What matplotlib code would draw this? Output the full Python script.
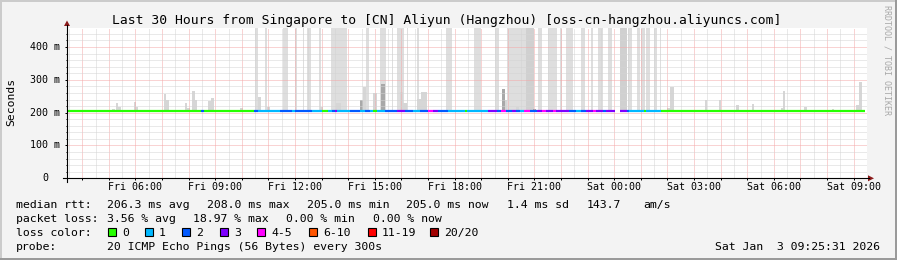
import matplotlib
matplotlib.use("Agg")
import matplotlib.pyplot as plt
from matplotlib.patches import Rectangle, Polygon
from matplotlib.lines import Line2D

W, H = 897, 260
MONO = "DejaVu Sans Mono"

# time axis: hours since Fri 00:00, graph ends Sat 09:25:31
t_start = 3.425
t_end = 33.425
y_top = 459

xlabel_hours = [6, 9, 12, 15, 18, 21, 24, 27, 30, 33]
xlabel_text = ["Fri 06:00", "Fri 09:00", "Fri 12:00", "Fri 15:00", "Fri 18:00",
               "Fri 21:00", "Sat 00:00", "Sat 03:00", "Sat 06:00", "Sat 09:00"]
ylabel_vals = [0, 100, 200, 300, 400]
ylabel_text = ["0", "100 m", "200 m", "300 m", "400 m"]

loss_names = ["0", "1", "2", "3", "4-5", "6-10", "11-19", "20/20"]
loss_colors = ["#26ff00", "#00b8ff", "#0059ff", "#7e00ff", "#ff00ff",
               "#ff5500", "#ff0000", "#a00000"]

# full height smoke columns
col_start = [10.48, 10.85, 11.53, 12.01, 12.28, 12.46, 12.88, 13.36, 14.68, 15.20,
             15.65, 15.84, 16.21, 16.59, 17.67, 18.72, 19.51, 19.96, 20.67, 21.12,
             21.50, 21.95, 22.17, 22.74, 23.11, 23.37, 23.75, 24.20, 24.50, 24.84,
             25.02, 25.21, 25.51, 25.70]
col_end = [10.59, 10.93, 11.75, 12.09, 12.35, 12.61, 12.99, 13.96, 14.79, 15.43,
           15.69, 16.10, 16.25, 16.66, 17.90, 18.99, 19.66, 20.67, 20.97, 21.28,
           21.84, 22.02, 22.44, 22.89, 23.19, 23.56, 23.90, 24.46, 24.65, 24.95,
           25.14, 25.36, 25.59, 25.77]
col_dark = [0, 0, 0, 0, 0, 0, 0, 0, 0, 0,
            0, 0, 0, 0, 0, 0, 0, 0, 1, 0,
            0, 0, 0, 0, 0, 0, 0, 1, 0, 0,
            0, 0, 0, 0]

# partial smoke (rtt spread above the median)
smk_start = [5.11, 5.26, 5.34, 5.94, 6.01, 7.06, 7.14, 7.85, 7.93, 8.11, 8.23, 8.71,
             8.83, 9.91, 10.59, 10.96, 12.95, 13.55, 14.45, 14.56, 14.94, 15.24,
             15.95, 16.06, 16.59, 16.74, 19.77, 19.88, 20.30, 20.94, 25.99, 26.11,
             27.42, 27.95, 28.59, 29.19, 30.27, 30.35, 31.13, 32.18, 33.08, 33.19]
smk_end = [5.23, 5.34, 5.45, 6.01, 6.09, 7.14, 7.25, 7.93, 8.04, 8.23, 8.30, 8.83,
           8.94, 10.03, 10.70, 11.07, 13.06, 13.74, 14.56, 14.68, 15.09, 15.39,
           16.06, 16.21, 16.74, 16.96, 19.88, 19.96, 20.41, 21.05, 26.11, 26.26,
           27.49, 28.02, 28.70, 29.26, 30.35, 30.42, 31.24, 32.25, 33.19, 33.30]
smk_top = [211, 231, 218, 233, 218, 256, 238, 231, 215, 267, 240, 236,
           245, 215, 248, 218, 218, 231, 240, 277, 261, 287,
           262, 230, 241, 262, 272, 240, 218, 212, 215, 279,
           238, 238, 224, 226, 215, 265, 218, 212, 222, 295]
smk_dark = [0, 0, 0, 0, 0, 0, 0, 0, 0, 0, 0, 0,
            0, 0, 0, 0, 0, 0, 1, 0, 0, 1,
            0, 0, 0, 0, 1, 0, 0, 1, 0, 0,
            0, 0, 0, 0, 0, 0, 0, 0, 0, 0]

# median rtt, coloured by packet loss
seg_start = [3.425, 8.45, 8.56, 10.44, 10.59, 11.45, 11.90, 12.01, 12.65, 12.76,
             13.03, 13.25, 13.40, 13.51, 13.59, 14.07, 14.45, 14.64, 14.82, 14.94,
             15.09, 15.39, 15.84, 16.14, 16.44, 16.70, 17.00, 17.19, 17.37, 17.75,
             18.12, 18.39, 18.46, 18.65, 19.25, 19.59, 19.74, 19.93, 20.15, 20.30,
             20.45, 20.60, 20.82, 21.09, 21.28, 21.42, 21.69, 21.80, 22.29, 22.55,
             22.74, 22.92, 23.19, 23.30, 23.56, 23.67, 24.20, 24.46, 24.54, 25.10,
             25.21, 25.40, 25.77]
seg_end = [8.45, 8.56, 10.44, 10.59, 11.45, 11.90, 12.01, 12.65, 12.76, 13.03,
           13.25, 13.40, 13.51, 13.59, 14.07, 14.45, 14.64, 14.82, 14.94, 15.09,
           15.39, 15.84, 16.14, 16.44, 16.70, 17.00, 17.19, 17.37, 17.75, 18.12,
           18.39, 18.46, 18.65, 19.25, 19.59, 19.74, 19.93, 20.15, 20.30, 20.45,
           20.60, 20.82, 21.09, 21.28, 21.42, 21.69, 21.80, 22.29, 22.55, 22.74,
           22.92, 23.19, 23.30, 23.56, 23.67, 24.01, 24.46, 24.54, 25.10, 25.21,
           25.40, 25.77, 33.425]
seg_loss = [0, 2, 0, 2, 1, 2, 1, 2, 1, 1,
            0, 1, 2, 3, 1, 2, 1, 2, 1, 0,
            1, 2, 3, 2, 1, 2, 4, 3, 2, 1,
            1, 0, 1, 1, 3, 2, 4, 2, 3, 2,
            1, 4, 2, 3, 4, 3, 4, 3, 2, 1,
            2, 3, 4, 3, 2, 3, 3, 2, 1, 0,
            1, 1, 0]
seg_rtt = [206, 206, 206, 206, 206, 206, 206, 206, 204, 206,
           206, 206, 206, 206, 206, 206, 206, 206, 206, 206,
           206, 206, 206, 206, 206, 206, 206, 206, 206, 206,
           204, 206, 204, 206, 206, 206, 206, 206, 206, 206,
           206, 206, 206, 206, 206, 206, 206, 206, 206, 206,
           206, 206, 206, 206, 206, 206, 206, 206, 206, 206,
           204, 206, 206]

stats_rtt = ["206.3 ms avg", "208.0 ms max", "205.0 ms min", "205.0 ms now",
             "1.4 ms sd", "143.7", "am/s"]
stats_rtt_x = [107, 207, 307, 406, 507, 587, 643]
stats_loss = ["3.56 % avg", "18.97 % max", "0.00 % min", "0.00 % now"]
stats_loss_x = [107, 193, 286, 373]
box_x = [108, 145, 182, 220, 257, 309, 368, 430]


def fx(x):
    return x / W


def fy(y):
    return 1 - y / H


fig = plt.figure(figsize=(W / 100, H / 100), dpi=100, facecolor="#f3f3f3")

# frame shading
fig.add_artist(Rectangle((0, fy(2)), 1, 2 / H, transform=fig.transFigure, color="#cbcbcb", lw=0))
fig.add_artist(Rectangle((0, 0), 2 / W, 1, transform=fig.transFigure, color="#cbcbcb", lw=0))
fig.add_artist(Rectangle((0, 0), 1, 2 / H, transform=fig.transFigure, color="#9a9a9a", lw=0))
fig.add_artist(Rectangle((fx(W - 2), 0), 2 / W, 1, transform=fig.transFigure, color="#9a9a9a", lw=0))

ax = fig.add_axes([fx(67), fy(178.3), 800 / W, 150.6 / H])
ax.set_facecolor("white")
for s in ax.spines.values():
    s.set_visible(False)
ax.set_xlim(t_start, t_end)
ax.set_ylim(0, y_top)

# smoke
ax.bar(col_start, height=y_top - 201, width=[e - s for s, e in zip(col_start, col_end)],
       bottom=201, align="edge", linewidth=0, zorder=1,
       color=["#d0d0d0" if d else "#dedede" for d in col_dark])
ax.bar(smk_start, height=[t - 203 for t in smk_top], width=[e - s for s, e in zip(smk_start, smk_end)],
       bottom=203, align="edge", linewidth=0, zorder=1.2,
       color=["#a8a8a8" if d else "#d6d6d6" for d in smk_dark])

# median line
ax.hlines(seg_rtt, seg_start, seg_end, colors=[loss_colors[i] for i in seg_loss],
          linewidth=1.6, capstyle="butt", zorder=3)

# grid
hours = list(range(4, 34))
ax.set_xticks(hours)
ax.set_xticks([h + 0.5 for h in range(3, 34)], minor=True)
ax.set_xticklabels([xlabel_text[xlabel_hours.index(h)] if h in xlabel_hours else "" for h in hours],
                   family=MONO, fontsize=7.2)
ax.set_yticks(ylabel_vals)
ax.set_yticks(range(20, 460, 20), minor=True)
ax.set_yticklabels([])
ax.set_axisbelow(False)
ax.grid(which="major", color="#f4a8a8", linewidth=0.72, linestyle=(0, (1, 1)))
ax.grid(which="minor", color="#d4d4d4", linewidth=0.72, linestyle=(0, (1, 1)))
ax.tick_params(which="both", direction="out", length=1.5, width=0.72, color="black", pad=1.5)
ax.tick_params(axis="x", which="minor", length=0)
ax.tick_params(axis="y", which="minor", length=1)

for v, lbl in zip(ylabel_vals, ylabel_text):
    xr = 60 if lbl != "0" else 48
    ax.text((xr - 67) / 800, v, lbl, transform=ax.get_yaxis_transform(), ha="right",
            va="center", family=MONO, fontsize=7.2)

# axes with arrows
fig.add_artist(Line2D([fx(63), fx(869)], [fy(178.3), fy(178.3)], color="black", lw=0.8))
fig.add_artist(Line2D([fx(67), fx(67)], [fy(182), fy(25)], color="black", lw=0.8))
fig.add_artist(Polygon([(fx(868), fy(175.3)), (fx(874), fy(178.3)), (fx(868), fy(181.3))],
                       closed=True, transform=fig.transFigure, color="#8b1a1a", lw=0))
fig.add_artist(Polygon([(fx(64), fy(26)), (fx(67), fy(20.5)), (fx(70), fy(26))],
                       closed=True, transform=fig.transFigure, color="#8b1a1a", lw=0))

# texts
fig.text(fx(446.5), fy(24), "Last 30 Hours from Singapore to [CN] Aliyun (Hangzhou) [oss-cn-hangzhou.aliyuncs.com]",
         ha="center", va="baseline", family=MONO, fontsize=9.4)
fig.text(fx(11), fy(102), "Seconds", rotation=90, ha="center", va="center", family=MONO, fontsize=8.2)
fig.text(fx(887), fy(5), "RRDTOOL / TOBI OETIKER", rotation=270, ha="center", va="top",
         family=MONO, fontsize=6.0, color="#a8a8a8")

lf = dict(va="baseline", family=MONO, fontsize=8.25)
fig.text(fx(16), fy(208.3), "median rtt:", **lf)
for s, x in zip(stats_rtt, stats_rtt_x):
    fig.text(fx(x), fy(208.3), s, **lf)
fig.text(fx(16), fy(222), "packet loss:", **lf)
for s, x in zip(stats_loss, stats_loss_x):
    fig.text(fx(x), fy(222), s, **lf)
fig.text(fx(16), fy(235.7), "loss color:", **lf)
for name, col, x in zip(loss_names, loss_colors, box_x):
    fig.add_artist(Rectangle((fx(x), fy(236)), 8 / W, 8 / H, transform=fig.transFigure,
                             facecolor=col, edgecolor="black", lw=0.8))
    fig.text(fx(x + 14), fy(235.7), name, **lf)
fig.text(fx(16), fy(250), "probe:", **lf)
fig.text(fx(107), fy(250), "20 ICMP Echo Pings (56 Bytes) every 300s", **lf)
fig.text(fx(880), fy(250), "Sat Jan  3 09:25:31 2026", ha="right", **lf)

fig.savefig("out.png", dpi=100, facecolor=fig.get_facecolor())
